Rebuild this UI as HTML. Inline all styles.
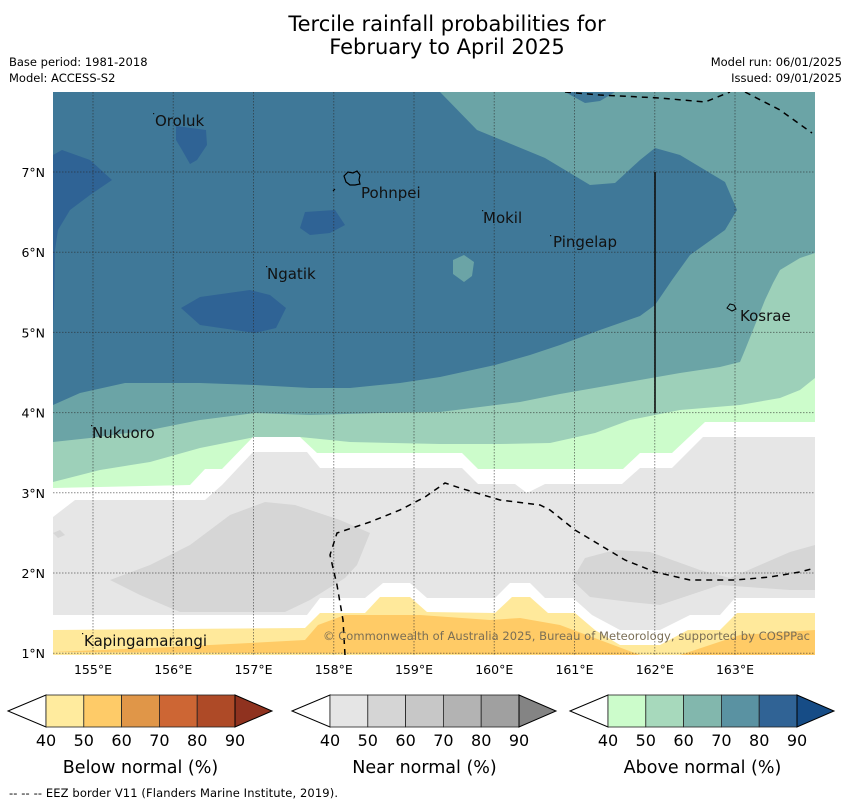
<!DOCTYPE html>
<html><head><meta charset="utf-8">
<style>
html,body{margin:0;padding:0;background:#fff;}
body{width:850px;height:804px;position:relative;overflow:hidden;font-family:"DejaVu Sans","Liberation Sans",sans-serif;color:#000;}
.t{position:absolute;white-space:nowrap;}
</style></head>
<body>
<div class="t" style="left:0;width:894px;top:13px;text-align:center;font-size:21px;line-height:23px;">Tercile rainfall probabilities for<br>February to April 2025</div>
<div class="t" style="left:9px;top:55px;font-size:11.5px;">Base period: 1981-2018</div>
<div class="t" style="left:9px;top:71px;font-size:11.5px;">Model: ACCESS-S2</div>
<div class="t" style="right:8px;top:55px;font-size:11.5px;text-align:right;">Model run: 06/01/2025</div>
<div class="t" style="right:8px;top:71px;font-size:11.5px;text-align:right;">Issued: 09/01/2025</div>

<svg width="850" height="804" style="position:absolute;left:0;top:0" xmlns="http://www.w3.org/2000/svg">
<defs><clipPath id="mc"><rect x="53" y="92" width="762" height="563"/></clipPath></defs>
<g clip-path="url(#mc)">
<rect x="53" y="92" width="762" height="563" fill="#3f7898"/>
<polygon fill="#6ba4a6" points="440,92 815,92 815,655 53,655 53,405 80,393 125,383 200,383 255,385 310,388 350,388 400,383 440,377 495,365 530,355 560,345 600,330 640,316 655,305 672,280 690,255 725,230 737,210 725,182 680,155 655,148 640,160 615,183 590,185 545,158 477,130"/>
<polygon fill="#3f7898" points="565,92 615,92 600,101 585,103"/>
<polygon fill="#6ba4a6" points="453,260 464,255 474,262 472,276 464,282 453,274"/>
<polygon fill="#2f6395" points="53,155 62,150 90,160 112,180 90,195 70,210 58,230 55,250 54,310 53,310"/>
<polygon fill="#2f6395" points="176,126 206,130 207,145 197,160 190,164 182,150 176,140"/>
<polygon fill="#2f6395" points="305,212 335,210 345,225 330,233 310,235 300,228"/>
<polygon fill="#2f6395" points="181,308 200,297 250,290 270,295 286,308 276,328 255,333 200,325"/>
<polygon fill="#9dd0b9" points="53,442 90,438 150,430 200,420 255,413 310,415 380,413 440,412 520,402 560,394 600,387 640,380 680,373 720,367 740,362 745,350 755,325 765,300 773,283 780,270 800,258 815,253 815,655 53,655"/>
<polygon fill="#ccfccb" points="53,482 100,470 150,462 200,448 255,437 300,437 350,442 440,444 500,444 550,443 595,433 630,420 680,410 740,405 780,398 800,390 815,378 815,655 53,655"/>
<polygon fill="#ffffff" points="53,488 190,485 205,469 222,469 253,437 300,437 317,453 462,453 478,469 623,469 640,453 672,453 705,422 815,422 815,655 53,655"/>
<polygon fill="#e6e6e6" points="53,517 75,500 205,500 222,485 253,452 307,452 320,468 462,468 478,484 515,484 527,493 545,484 622,484 640,468 672,468 703,437 815,437 815,598 735,598 720,615 690,615 660,630 620,630 592,615 573,598 545,598 530,583 510,583 495,598 427,598 410,583 383,583 365,598 320,598 307,615 53,615"/>
<polygon fill="#d6d6d6" points="110,580 150,565 190,545 230,515 265,502 295,505 340,520 370,533 357,565 345,578 310,600 285,612 180,612 140,595"/>
<polygon fill="#d6d6d6" points="53,533 60,530 65,535 58,538"/>
<polygon fill="#d6d6d6" points="572,580 585,558 615,550 650,552 700,570 730,578 760,565 790,552 815,545 815,590 790,590 720,585 660,605 630,602 590,597"/>
<polygon fill="#ffe99b" points="53,630 305,628 320,613 365,613 380,597 410,597 427,612 495,613 512,597 530,597 548,613 575,613 595,630 620,645 660,645 688,630 720,630 737,613 815,613 815,655 53,655"/>
<polygon fill="#ffcb66" points="53,652 150,648 250,643 305,640 318,625 345,615 420,615 490,620 520,618 560,625 600,640 640,655"/>
<polygon fill="#ffcb66" points="680,655 710,645 740,635 815,630 815,655"/>
</g>
<g id="grid" stroke="rgba(40,40,40,0.55)" stroke-width="1" stroke-dasharray="1.5,1.5" fill="none"></g>
<g fill="none" stroke="#000" stroke-width="1.5" stroke-dasharray="6,5" clip-path="url(#mc)">
<polyline points="345,655 343,620 337,585 330,555 337,533 370,522 400,510 425,497 445,483 460,488 500,500 540,505 550,510 575,530 600,545 625,560 655,572 690,580 735,580 770,577 800,572 815,568"/>
<polyline points="565,92 600,95 660,98 705,102 730,92"/>
<polyline points="745,92 780,110 812,133"/>
</g>
<line x1="655" y1="172" x2="655" y2="413" stroke="#111" stroke-width="1.6"/>
<path d="M344,176 l4,-4 l5,1 l4,-2 l3,4 l-1,5 l1,4 l-5,1 l-5,0 l-4,-3 z M333,191 l2,-2" fill="none" stroke="#000" stroke-width="1.2"/>
<path d="M727,308 l3,-4 l4,1 l2,4 l-4,2 z" fill="none" stroke="#000" stroke-width="1"/>
<g fill="#111">
<rect x="153" y="113" width="1.2" height="1.2"/><rect x="266" y="266" width="1.2" height="1.2"/><rect x="482" y="210" width="1.2" height="1.2"/><rect x="550" y="235" width="1.2" height="1.2"/><rect x="91" y="425" width="1.2" height="1.2"/><rect x="82" y="633" width="1.2" height="1.2"/>
</g>
<g font-size="15" fill="#111" font-family="DejaVu Sans, Liberation Sans, sans-serif">
<text x="155" y="126">Oroluk</text>
<text x="361" y="198">Pohnpei</text>
<text x="483" y="223">Mokil</text>
<text x="553" y="247">Pingelap</text>
<text x="267" y="279">Ngatik</text>
<text x="740" y="321">Kosrae</text>
<text x="92" y="438">Nukuoro</text>
<text x="84" y="646">Kapingamarangi</text>
</g>
<text x="323" y="640" font-size="11.5" textLength="487" fill="#7a6e55" font-family="DejaVu Sans, sans-serif">© Commonwealth of Australia 2025, Bureau of Meteorology, supported by COSPPac</text>
<g id="axes" font-size="12.5" font-family="DejaVu Sans, sans-serif" fill="#000"></g>
<g id="cbars"></g>
<text x="9" y="797" font-size="11.5" textLength="329" font-family="DejaVu Sans, sans-serif">--  --  -- EEZ border V11 (Flanders Marine Institute, 2019).</text>
</svg>
<script>
var lonTicks=[155,156,157,158,159,160,161,162,163];
var latTicks=[1,2,3,4,5,6,7];
var cbTicks=["40","50","60","70","80","90"];
var belowColors=["#ffeb9e","#fecb68","#e09648","#cd6634","#ae4a27"];
var nearColors=["#e5e5e5","#d5d5d5","#c7c7c7","#b3b3b3","#a0a0a0"];
var aboveColors=["#ccfccb","#a7d9bc","#82b7ad","#5a92a2","#306395"];
var tipColors=["#8f321f","#848484","#164c86"];
var cbTitles=["Below normal (%)","Near normal (%)","Above normal (%)"];
var cbLeft=[46,330,608];
var NS="http://www.w3.org/2000/svg";
function xLon(l){return 93+(l-155)*80.25;}
function yLat(l){return 172+(7-l)*80.2;}
function mk(t,a,p){var e=document.createElementNS(NS,t);for(var k in a)e.setAttribute(k,a[k]);p.appendChild(e);return e;}
var grid=document.getElementById('grid'),axes=document.getElementById('axes');
lonTicks.forEach(function(l){
 var x=xLon(l);
 var ln=mk('line',{x1:x,y1:92,x2:x,y2:655},grid);
 
 
 var t=mk('text',{x:x,y:674,'text-anchor':'middle'},axes);t.textContent=l+'°E';
 
 
});
latTicks.forEach(function(l){
 var y=yLat(l);
 var ln=mk('line',{x1:53,y1:y,x2:815,y2:y},grid);
 
 
 var t=mk('text',{x:45,y:y+5,'text-anchor':'end'},axes);t.textContent=l+'°N';
 
 
});
var cb=document.getElementById('cbars');
[belowColors,nearColors,aboveColors].forEach(function(cols,i){
 var x0=cbLeft[i],w=37.8,y0=695,h=32,x1=x0+w*cols.length;
 var g=mk('g',{},cb);
 
 
 mk('polygon',{points:(x0-38)+','+(y0+h/2)+' '+x0+','+y0+' '+x0+','+(y0+h),fill:'#fff',stroke:'#000','stroke-width':1},g);
 cols.forEach(function(c,j){mk('rect',{x:x0+j*w,y:y0,width:w,height:h,fill:c,stroke:'#222','stroke-width':0.8},g);});
 mk('polygon',{points:x1+','+y0+' '+(x1+37)+','+(y0+h/2)+' '+x1+','+(y0+h),fill:tipColors[i],stroke:'#000','stroke-width':1},g);
 cbTicks.forEach(function(s,j){var t=mk('text',{x:x0+j*w,y:746,'text-anchor':'middle','font-size':16,'font-family':'DejaVu Sans, sans-serif'},g);t.textContent=s;
  
  });
 var tt=mk('text',{x:(x0+x1)/2,y:773,'text-anchor':'middle','font-size':17.5,'font-family':'DejaVu Sans, sans-serif'},g);tt.textContent=cbTitles[i];
 
 
});
</script>
</body></html>
